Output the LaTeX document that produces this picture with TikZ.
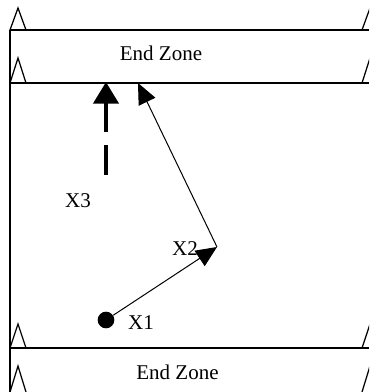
\documentclass[tikz,border=0pt]{standalone}
\usepackage{fontspec}
\setmainfont{Liberation Serif}
\usetikzlibrary{arrows.meta}

\begin{document}
\begin{tikzpicture}[x=0.6pt,y=-0.6pt, fieldline/.style={line width=0.8pt}, flag/.style={line width=0.75pt,line join=miter}, lbl/.style={inner sep=0pt,font=\fontsize{12.6}{15}\selectfont}, ball/.style={circle,fill,inner sep=0pt,minimum size=10pt}, run/.style={-{Triangle[length=12.5pt,width=11pt]},line width=0.6pt}, pass/.style={-{Triangle[length=13pt,width=15pt]},line width=2.6pt,dash pattern=on 18pt off 7.5pt}]
\useasboundingbox (0,0) rectangle (369,392);
\clip (0,0) rectangle (369,392);
\draw[fieldline] (10,30) -- (369,30);
\draw[fieldline] (10,83) -- (369,83);
\draw[fieldline] (10,348) -- (369,348);
\draw[fieldline] (10,30) -- (10,392);
\draw[flag] (10,30) -- (18,8) -- (26,30);
\draw[flag] (10,83) -- (18,58) -- (26,83);
\draw[flag] (10,348) -- (18,324) -- (26,348);
\draw[flag] (10,392) -- (18,366) -- (26,392);
\draw[flag] (362,30) -- (370,8) -- (378,30);
\draw[flag] (362,83) -- (370,58) -- (378,83);
\draw[flag] (362,348) -- (370,324) -- (378,348);
\draw[flag] (362,392) -- (370,366) -- (378,392);
\node[lbl] (zone1) at (161,53.5) {End Zone};
\node[lbl] (zone2) at (177.5,372.5) {End Zone};
\node[ball] (start) at (106,320) {};
\coordinate (turn) at (217,247);
\coordinate (catch) at (138,83);
\coordinate (throw) at (106,175);
\coordinate (land) at (106,82);
\node[lbl] (x1) at (141,323) {X1};
\node[lbl] (x2) at (185,249) {X2};
\node[lbl] (x3) at (78,201) {X3};
\draw[run] (start) -- (turn);
\draw[run] (turn) -- (catch);
\draw[pass] (throw) -- (land);
\end{tikzpicture}
\end{document}
